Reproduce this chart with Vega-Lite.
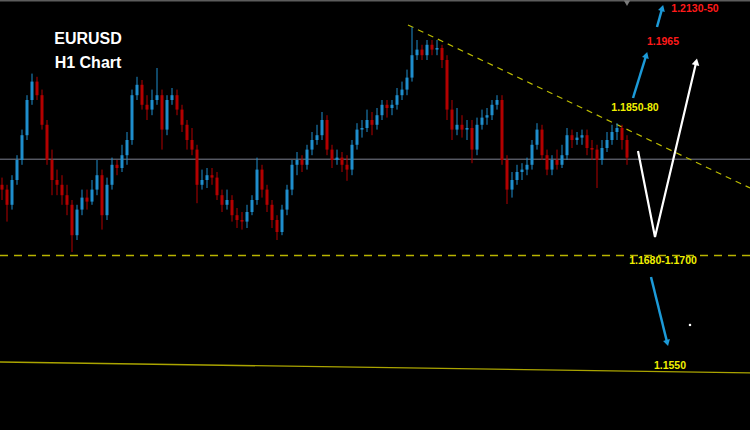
{
  "$schema": "https://vega.github.io/schema/vega-lite/v6.json",
  "width": 750,
  "height": 430,
  "autosize": {"type": "none"},
  "padding": 0,
  "background": "#000000",
  "config": {"view": {"stroke": null}, "axis": {"domain": false, "grid": false, "ticks": false, "labels": false, "title": null}},
  "datasets": {
    "candles": [
      {"t":0,"o":1.1779,"h":1.1788,"l":1.1760,"c":1.1773},
      {"t":1,"o":1.1773,"h":1.1779,"l":1.1733,"c":1.1754},
      {"t":2,"o":1.1754,"h":1.1791,"l":1.1748,"c":1.1785},
      {"t":3,"o":1.1785,"h":1.1816,"l":1.1779,"c":1.1810},
      {"t":4,"o":1.1810,"h":1.1848,"l":1.1804,"c":1.1841},
      {"t":5,"o":1.1841,"h":1.1891,"l":1.1835,"c":1.1885},
      {"t":6,"o":1.1885,"h":1.1918,"l":1.1879,"c":1.1908},
      {"t":7,"o":1.1908,"h":1.1914,"l":1.1885,"c":1.1891},
      {"t":8,"o":1.1891,"h":1.1898,"l":1.1848,"c":1.1854},
      {"t":9,"o":1.1854,"h":1.1860,"l":1.1804,"c":1.1810},
      {"t":10,"o":1.1810,"h":1.1823,"l":1.1766,"c":1.1785},
      {"t":11,"o":1.1785,"h":1.1798,"l":1.1766,"c":1.1779},
      {"t":12,"o":1.1779,"h":1.1791,"l":1.1754,"c":1.1766},
      {"t":13,"o":1.1766,"h":1.1779,"l":1.1741,"c":1.1754},
      {"t":14,"o":1.1754,"h":1.1760,"l":1.1695,"c":1.1716},
      {"t":15,"o":1.1716,"h":1.1754,"l":1.1710,"c":1.1748},
      {"t":16,"o":1.1748,"h":1.1773,"l":1.1741,"c":1.1763},
      {"t":17,"o":1.1763,"h":1.1773,"l":1.1748,"c":1.1758},
      {"t":18,"o":1.1758,"h":1.1785,"l":1.1754,"c":1.1773},
      {"t":19,"o":1.1773,"h":1.1810,"l":1.1766,"c":1.1791},
      {"t":20,"o":1.1791,"h":1.1798,"l":1.1723,"c":1.1741},
      {"t":21,"o":1.1741,"h":1.1788,"l":1.1735,"c":1.1779},
      {"t":22,"o":1.1779,"h":1.1813,"l":1.1773,"c":1.1804},
      {"t":23,"o":1.1804,"h":1.1810,"l":1.1791,"c":1.1800},
      {"t":24,"o":1.1800,"h":1.1829,"l":1.1795,"c":1.1816},
      {"t":25,"o":1.1816,"h":1.1845,"l":1.1804,"c":1.1835},
      {"t":26,"o":1.1835,"h":1.1898,"l":1.1829,"c":1.1891},
      {"t":27,"o":1.1891,"h":1.1914,"l":1.1885,"c":1.1904},
      {"t":28,"o":1.1904,"h":1.1910,"l":1.1873,"c":1.1879},
      {"t":29,"o":1.1879,"h":1.1891,"l":1.1860,"c":1.1873},
      {"t":30,"o":1.1873,"h":1.1898,"l":1.1866,"c":1.1885},
      {"t":31,"o":1.1885,"h":1.1925,"l":1.1879,"c":1.1891},
      {"t":32,"o":1.1891,"h":1.1898,"l":1.1823,"c":1.1848},
      {"t":33,"o":1.1848,"h":1.1891,"l":1.1841,"c":1.1885},
      {"t":34,"o":1.1885,"h":1.1900,"l":1.1879,"c":1.1891},
      {"t":35,"o":1.1891,"h":1.1898,"l":1.1866,"c":1.1873},
      {"t":36,"o":1.1873,"h":1.1879,"l":1.1845,"c":1.1854},
      {"t":37,"o":1.1854,"h":1.1860,"l":1.1823,"c":1.1835},
      {"t":38,"o":1.1835,"h":1.1850,"l":1.1816,"c":1.1823},
      {"t":39,"o":1.1823,"h":1.1829,"l":1.1756,"c":1.1779},
      {"t":40,"o":1.1779,"h":1.1798,"l":1.1773,"c":1.1785},
      {"t":41,"o":1.1785,"h":1.1800,"l":1.1775,"c":1.1791},
      {"t":42,"o":1.1791,"h":1.1800,"l":1.1779,"c":1.1788},
      {"t":43,"o":1.1788,"h":1.1795,"l":1.1760,"c":1.1766},
      {"t":44,"o":1.1766,"h":1.1773,"l":1.1745,"c":1.1754},
      {"t":45,"o":1.1754,"h":1.1773,"l":1.1748,"c":1.1760},
      {"t":46,"o":1.1760,"h":1.1766,"l":1.1733,"c":1.1741},
      {"t":47,"o":1.1741,"h":1.1750,"l":1.1725,"c":1.1735},
      {"t":48,"o":1.1735,"h":1.1745,"l":1.1723,"c":1.1733},
      {"t":49,"o":1.1733,"h":1.1754,"l":1.1725,"c":1.1745},
      {"t":50,"o":1.1745,"h":1.1766,"l":1.1741,"c":1.1760},
      {"t":51,"o":1.1760,"h":1.1813,"l":1.1754,"c":1.1798},
      {"t":52,"o":1.1798,"h":1.1804,"l":1.1763,"c":1.1773},
      {"t":53,"o":1.1773,"h":1.1779,"l":1.1745,"c":1.1754},
      {"t":54,"o":1.1754,"h":1.1760,"l":1.1725,"c":1.1735},
      {"t":55,"o":1.1735,"h":1.1741,"l":1.1710,"c":1.1720},
      {"t":56,"o":1.1720,"h":1.1754,"l":1.1716,"c":1.1748},
      {"t":57,"o":1.1748,"h":1.1779,"l":1.1741,"c":1.1773},
      {"t":58,"o":1.1773,"h":1.1810,"l":1.1766,"c":1.1804},
      {"t":59,"o":1.1804,"h":1.1820,"l":1.1791,"c":1.1810},
      {"t":60,"o":1.1810,"h":1.1816,"l":1.1795,"c":1.1804},
      {"t":61,"o":1.1804,"h":1.1829,"l":1.1798,"c":1.1823},
      {"t":62,"o":1.1823,"h":1.1845,"l":1.1816,"c":1.1835},
      {"t":63,"o":1.1835,"h":1.1854,"l":1.1829,"c":1.1841},
      {"t":64,"o":1.1841,"h":1.1870,"l":1.1835,"c":1.1860},
      {"t":65,"o":1.1860,"h":1.1866,"l":1.1816,"c":1.1823},
      {"t":66,"o":1.1823,"h":1.1829,"l":1.1800,"c":1.1810},
      {"t":67,"o":1.1810,"h":1.1823,"l":1.1804,"c":1.1813},
      {"t":68,"o":1.1813,"h":1.1820,"l":1.1795,"c":1.1804},
      {"t":69,"o":1.1804,"h":1.1816,"l":1.1784,"c":1.1798},
      {"t":70,"o":1.1798,"h":1.1835,"l":1.1791,"c":1.1829},
      {"t":71,"o":1.1829,"h":1.1856,"l":1.1823,"c":1.1848},
      {"t":72,"o":1.1848,"h":1.1860,"l":1.1838,"c":1.1850},
      {"t":73,"o":1.1850,"h":1.1873,"l":1.1845,"c":1.1860},
      {"t":74,"o":1.1860,"h":1.1870,"l":1.1841,"c":1.1854},
      {"t":75,"o":1.1854,"h":1.1875,"l":1.1848,"c":1.1866},
      {"t":76,"o":1.1866,"h":1.1885,"l":1.1860,"c":1.1879},
      {"t":77,"o":1.1879,"h":1.1885,"l":1.1863,"c":1.1875},
      {"t":78,"o":1.1875,"h":1.1885,"l":1.1866,"c":1.1879},
      {"t":79,"o":1.1879,"h":1.1900,"l":1.1873,"c":1.1891},
      {"t":80,"o":1.1891,"h":1.1908,"l":1.1885,"c":1.1898},
      {"t":81,"o":1.1898,"h":1.1923,"l":1.1891,"c":1.1913},
      {"t":82,"o":1.1913,"h":1.1976,"l":1.1908,"c":1.1941},
      {"t":83,"o":1.1941,"h":1.1960,"l":1.1935,"c":1.1948},
      {"t":84,"o":1.1948,"h":1.1954,"l":1.1935,"c":1.1941},
      {"t":85,"o":1.1941,"h":1.1960,"l":1.1935,"c":1.1954},
      {"t":86,"o":1.1954,"h":1.1960,"l":1.1941,"c":1.1948},
      {"t":87,"o":1.1948,"h":1.1960,"l":1.1941,"c":1.1950},
      {"t":88,"o":1.1950,"h":1.1954,"l":1.1925,"c":1.1935},
      {"t":89,"o":1.1935,"h":1.1941,"l":1.1860,"c":1.1873},
      {"t":90,"o":1.1873,"h":1.1885,"l":1.1835,"c":1.1848},
      {"t":91,"o":1.1848,"h":1.1875,"l":1.1841,"c":1.1854},
      {"t":92,"o":1.1854,"h":1.1866,"l":1.1838,"c":1.1848},
      {"t":93,"o":1.1848,"h":1.1860,"l":1.1835,"c":1.1850},
      {"t":94,"o":1.1850,"h":1.1860,"l":1.1806,"c":1.1823},
      {"t":95,"o":1.1823,"h":1.1863,"l":1.1816,"c":1.1854},
      {"t":96,"o":1.1854,"h":1.1873,"l":1.1848,"c":1.1863},
      {"t":97,"o":1.1863,"h":1.1875,"l":1.1854,"c":1.1866},
      {"t":98,"o":1.1866,"h":1.1885,"l":1.1860,"c":1.1879},
      {"t":99,"o":1.1879,"h":1.1891,"l":1.1873,"c":1.1885},
      {"t":100,"o":1.1885,"h":1.1891,"l":1.1804,"c":1.1810},
      {"t":101,"o":1.1810,"h":1.1816,"l":1.1755,"c":1.1773},
      {"t":102,"o":1.1773,"h":1.1795,"l":1.1763,"c":1.1785},
      {"t":103,"o":1.1785,"h":1.1804,"l":1.1779,"c":1.1795},
      {"t":104,"o":1.1795,"h":1.1806,"l":1.1785,"c":1.1798},
      {"t":105,"o":1.1798,"h":1.1813,"l":1.1791,"c":1.1804},
      {"t":106,"o":1.1804,"h":1.1835,"l":1.1798,"c":1.1829},
      {"t":107,"o":1.1829,"h":1.1856,"l":1.1823,"c":1.1848},
      {"t":108,"o":1.1848,"h":1.1854,"l":1.1810,"c":1.1816},
      {"t":109,"o":1.1816,"h":1.1823,"l":1.1791,"c":1.1798},
      {"t":110,"o":1.1798,"h":1.1816,"l":1.1791,"c":1.1810},
      {"t":111,"o":1.1810,"h":1.1823,"l":1.1798,"c":1.1804},
      {"t":112,"o":1.1804,"h":1.1829,"l":1.1800,"c":1.1816},
      {"t":113,"o":1.1816,"h":1.1850,"l":1.1810,"c":1.1841},
      {"t":114,"o":1.1841,"h":1.1848,"l":1.1825,"c":1.1835},
      {"t":115,"o":1.1835,"h":1.1845,"l":1.1829,"c":1.1838},
      {"t":116,"o":1.1838,"h":1.1848,"l":1.1829,"c":1.1841},
      {"t":117,"o":1.1841,"h":1.1848,"l":1.1816,"c":1.1825},
      {"t":118,"o":1.1825,"h":1.1835,"l":1.1810,"c":1.1823},
      {"t":119,"o":1.1823,"h":1.1829,"l":1.1775,"c":1.1810},
      {"t":120,"o":1.1810,"h":1.1835,"l":1.1804,"c":1.1825},
      {"t":121,"o":1.1825,"h":1.1845,"l":1.1820,"c":1.1835},
      {"t":122,"o":1.1835,"h":1.1854,"l":1.1829,"c":1.1845},
      {"t":123,"o":1.1845,"h":1.1856,"l":1.1835,"c":1.1850},
      {"t":124,"o":1.1850,"h":1.1854,"l":1.1823,"c":1.1835},
      {"t":125,"o":1.1835,"h":1.1841,"l":1.1804,"c":1.1813}
    ],
    "trend": [
      {"t":81.2,"p":1.19788},
      {"t":149.6,"p":1.1775}
    ],
    "support": [
      {"t":-0.4,"p":1.15575},
      {"t":149.6,"p":1.15438}
    ],
    "blueArrows": [
      {"id":"a1","s":0,"t":126.2,"p":1.18875},
      {"id":"a1","s":1,"t":128.8,"p":1.1940},
      {"id":"a2","s":0,"t":131.0,"p":1.19763},
      {"id":"a2","s":1,"t":132.0,"p":1.19988},
      {"id":"a3","s":0,"t":129.8,"p":1.16638},
      {"id":"a3","s":1,"t":133.0,"p":1.15825}
    ],
    "whitePath": [
      {"s":0,"t":127.2,"p":1.18213},
      {"s":1,"t":130.6,"p":1.17138},
      {"s":2,"t":138.8,"p":1.19313}
    ],
    "redLabels": [
      {"t":138.6,"p":1.19988,"label":"1.2130-50"},
      {"t":132.2,"p":1.19575,"label":"1.1965"}
    ],
    "yellowLabels": [
      {"t":126.6,"p":1.1875,"label":"1.1850-80"},
      {"t":132.2,"p":1.16838,"label":"1.1680-1.1700"},
      {"t":133.6,"p":1.15525,"label":"1.1550"}
    ],
    "titles": [
      {"t":17.2,"p":1.19613,"label":"EURUSD"},
      {"t":17.2,"p":1.19313,"label":"H1 Chart"}
    ]
  },
  "encoding": {
    "x": {"type": "quantitative", "scale": {"domain": [-0.4, 149.6], "nice": false, "zero": false}, "axis": null},
    "y": {"type": "quantitative", "scale": {"domain": [1.14725, 1.2010], "nice": false, "zero": false}, "axis": null}
  },
  "layer": [
    {
      "data": {"values": [{"p": 1.20095}]},
      "mark": {"type": "rule", "color": "#5c5c5c", "strokeWidth": 2},
      "encoding": {"y": {"field": "p"}}
    },
    {
      "data": {"values": [{"t": 125, "p": 1.2006}]},
      "mark": {"type": "point", "shape": "triangle-down", "filled": true, "color": "#7a7a7a", "size": 40, "opacity": 1},
      "encoding": {"x": {"field": "t"}, "y": {"field": "p"}}
    },
    {
      "data": {"values": [{"p": 1.1811}]},
      "mark": {"type": "rule", "color": "#7d8290", "strokeWidth": 1},
      "encoding": {"y": {"field": "p"}}
    },
    {
      "data": {"values": [{"p": 1.16906}]},
      "mark": {"type": "rule", "color": "#b8b400", "strokeWidth": 1.3, "strokeDash": [8, 6]},
      "encoding": {"y": {"field": "p"}}
    },
    {
      "data": {"name": "support"},
      "mark": {"type": "line", "color": "#aaa400", "strokeWidth": 1.3},
      "encoding": {"x": {"field": "t"}, "y": {"field": "p"}}
    },
    {
      "data": {"name": "trend"},
      "mark": {"type": "line", "color": "#bcbc00", "strokeWidth": 1.2, "strokeDash": [6, 5]},
      "encoding": {"x": {"field": "t"}, "y": {"field": "p"}}
    },
    {
      "data": {"name": "candles"},
      "mark": {"type": "rule", "strokeWidth": 1},
      "encoding": {
        "x": {"field": "t"},
        "y": {"field": "l"},
        "y2": {"field": "h"},
        "color": {"condition": {"test": "datum.c >= datum.o", "value": "#1f8ecd"}, "value": "#b30000"}
      }
    },
    {
      "data": {"name": "candles"},
      "mark": {"type": "rule", "strokeWidth": 3},
      "encoding": {
        "x": {"field": "t"},
        "y": {"field": "o"},
        "y2": {"field": "c"},
        "color": {"condition": {"test": "datum.c >= datum.o", "value": "#1f8ecd"}, "value": "#b30000"}
      }
    },
    {
      "data": {"name": "blueArrows"},
      "mark": {"type": "line", "color": "#1c9ad8", "strokeWidth": 2.5},
      "encoding": {"x": {"field": "t"}, "y": {"field": "p"}, "detail": {"field": "id"}, "order": {"field": "s"}}
    },
    {
      "data": {"values": [{"t": 128.8, "p": 1.1940}]},
      "mark": {"type": "point", "shape": "triangle", "filled": true, "color": "#1c9ad8", "size": 50, "angle": 17, "opacity": 1},
      "encoding": {"x": {"field": "t"}, "y": {"field": "p"}}
    },
    {
      "data": {"values": [{"t": 132.0, "p": 1.19988}]},
      "mark": {"type": "point", "shape": "triangle", "filled": true, "color": "#1c9ad8", "size": 50, "angle": 16, "opacity": 1},
      "encoding": {"x": {"field": "t"}, "y": {"field": "p"}}
    },
    {
      "data": {"values": [{"t": 133.0, "p": 1.15825}]},
      "mark": {"type": "point", "shape": "triangle", "filled": true, "color": "#1c9ad8", "size": 50, "angle": 165, "opacity": 1},
      "encoding": {"x": {"field": "t"}, "y": {"field": "p"}}
    },
    {
      "data": {"name": "whitePath"},
      "mark": {"type": "line", "color": "#ffffff", "strokeWidth": 2.2},
      "encoding": {"x": {"field": "t"}, "y": {"field": "p"}, "order": {"field": "s"}}
    },
    {
      "data": {"values": [{"t": 138.8, "p": 1.19313}]},
      "mark": {"type": "point", "shape": "triangle", "filled": true, "color": "#ffffff", "size": 60, "angle": 13, "opacity": 1},
      "encoding": {"x": {"field": "t"}, "y": {"field": "p"}}
    },
    {
      "data": {"values": [{"t": 137.6, "p": 1.16038}]},
      "mark": {"type": "square", "color": "#ffffff", "size": 5, "opacity": 1},
      "encoding": {"x": {"field": "t"}, "y": {"field": "p"}}
    },
    {
      "data": {"name": "redLabels"},
      "mark": {"type": "text", "color": "#ff1a1a", "font": "Liberation Sans", "fontWeight": "bold", "fontSize": 10.5, "align": "center", "baseline": "middle"},
      "encoding": {"x": {"field": "t"}, "y": {"field": "p"}, "text": {"field": "label"}}
    },
    {
      "data": {"name": "yellowLabels"},
      "mark": {"type": "text", "color": "#f0f000", "font": "Liberation Sans", "fontWeight": "bold", "fontSize": 10.5, "align": "center", "baseline": "middle"},
      "encoding": {"x": {"field": "t"}, "y": {"field": "p"}, "text": {"field": "label"}}
    },
    {
      "data": {"name": "titles"},
      "mark": {"type": "text", "color": "#ffffff", "font": "Liberation Sans", "fontWeight": "bold", "fontSize": 16, "align": "center", "baseline": "middle"},
      "encoding": {"x": {"field": "t"}, "y": {"field": "p"}, "text": {"field": "label"}}
    }
  ]
}
